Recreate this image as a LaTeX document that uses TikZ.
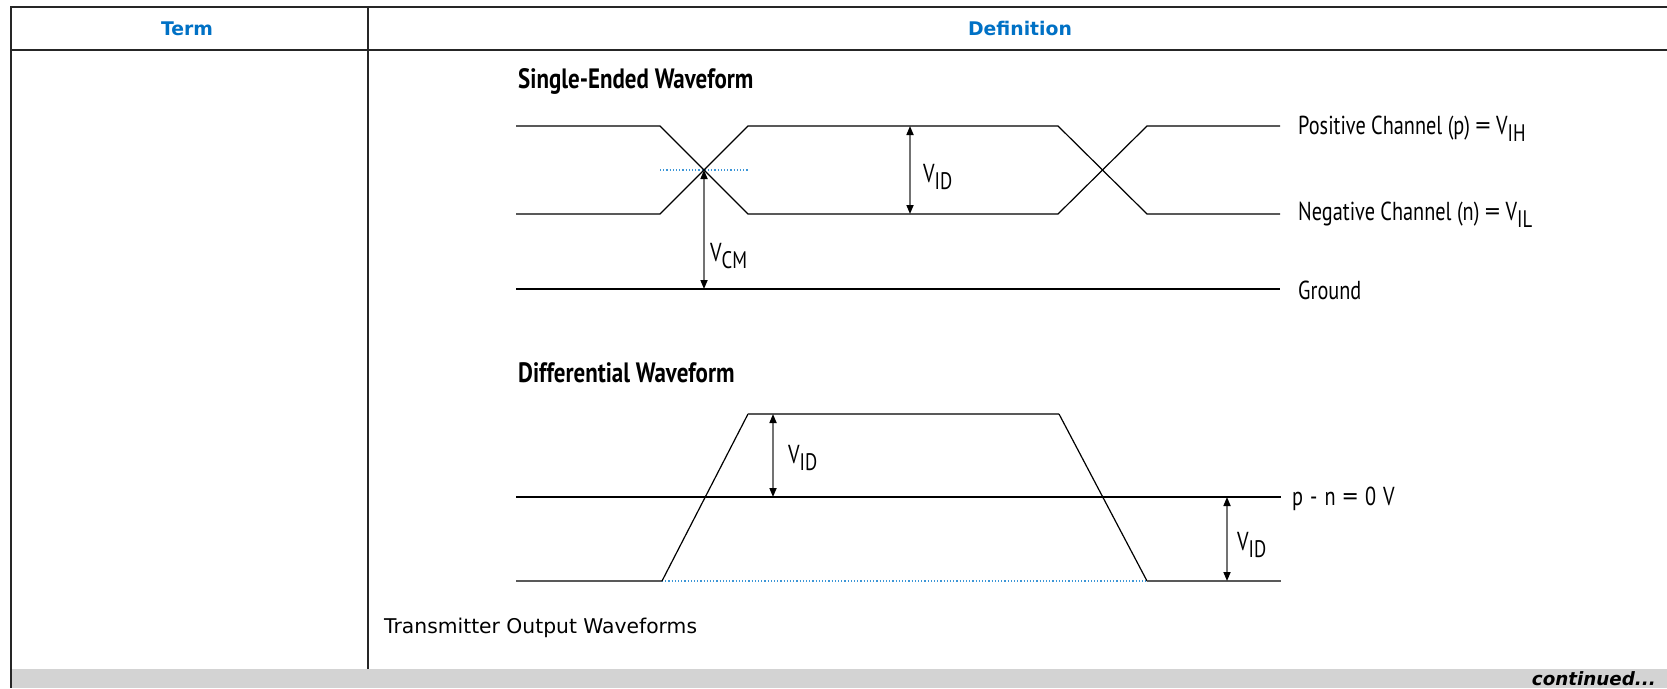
\documentclass[tikz,border=0pt]{standalone}
\usepackage{fontspec}
\usepackage{graphicx}
\usetikzlibrary{arrows.meta}
\newfontfamily\hdrfont{DejaVu Sans}
\newfontfamily\wfont[FakeStretch=0.78]{PT Sans}
\newfontfamily\wtfont[FakeStretch=0.82]{PT Sans}
\definecolor{intelblue}{RGB}{0,113,197}
\definecolor{dotblue}{RGB}{60,150,215}
\definecolor{barfill}{RGB}{211,211,211}
\newcommand\Vsub[1]{V\raisebox{-0.3em}{\scalebox{0.92}{#1}}}
\newcommand\eqsign{\scalebox{1.5}[1]{=}}
\newcommand\wsp{\hspace*{1.6pt} }
\begin{document}
\begin{tikzpicture}[x=1pt,y=-1pt,
  tbl/.style={line width=2pt, draw=black!85},
  hdr/.style={font=\hdrfont\bfseries\fontsize{18.8}{20}\selectfont, text=intelblue, inner sep=0pt, anchor=base},
  note/.style={font=\hdrfont\fontsize{20.3}{22}\selectfont, inner sep=0pt, anchor=base west},
  cont/.style={font=\hdrfont\bfseries\itshape\fontsize{18.3}{20}\selectfont, inner sep=0pt, anchor=base east},
  wlbl/.style={font=\wfont\fontsize{26}{28}\selectfont, inner sep=0pt, anchor=base west},
  wtitle/.style={font=\wtfont\bfseries\fontsize{28}{30}\selectfont, inner sep=0pt, anchor=base west},
  sig/.style={line width=1.2pt, draw=black},
  flat/.style={line width=1.7pt, draw=black!65},
  meas/.style={line width=1.6pt, draw=black!55, {Triangle[length=9pt,width=7pt,color=black]}-{Triangle[length=9pt,width=7pt,color=black]}},
  refl/.style={draw=dotblue, line width=1.2pt, dotted}]
\useasboundingbox (0,0) rectangle (1667,688);
\fill[white] (0,0) rectangle (1667,688);
% table
\fill[barfill] (10.7,669) rectangle (1667,688);
\draw[tbl] (1667,7) -- (10.7,7) -- (10.7,688);
\draw[tbl] (10.7,50) -- (1667,50);
\draw[tbl] (368,7) -- (368,669);
\node[hdr] (term) at (187,35) {Term};
\node[hdr] (defn) at (1020,35) {Definition};
\node[note] (caption) at (384,633) {Transmitter Output Waveforms};
\node[cont] (continued) at (1656,685) {continued...};
% single-ended waveform
\node[wtitle] (t1) at (518,88) {Single-Ended Waveform};
\coordinate (a1) at (516,126); \coordinate (a2) at (660,126);
\coordinate (a3) at (748,214); \coordinate (a4) at (1058,214);
\coordinate (a5) at (1147,126); \coordinate (a6) at (1280,126);
\coordinate (b1) at (516,214); \coordinate (b2) at (660,214);
\coordinate (b3) at (748,126); \coordinate (b4) at (1058,126);
\coordinate (b5) at (1147,214); \coordinate (b6) at (1280,214);
\coordinate (g1) at (516,289); \coordinate (g2) at (1280,289);
\coordinate (x1) at (704,170);
\coordinate (cmg) at (704,289);
\coordinate (d1) at (660,170); \coordinate (d2) at (748,170);
\coordinate (idt) at (910,126); \coordinate (idb) at (910,214);
\draw[refl] (d1) -- (d2);
\draw[sig] (a1) -- (a2) -- (a3) -- (a4) -- (a5) -- (a6);
\draw[sig] (b1) -- (b2) -- (b3) -- (b4) -- (b5) -- (b6);
\draw[sig] (g1) -- (g2);
\draw[meas] (idt) -- (idb);
\draw[meas] (x1) -- (cmg);
\node[wlbl] (vid1) at (923,182) {\Vsub{ID}};
\node[wlbl] (vcm) at (710,261) {\Vsub{CM}};
\node[wlbl] (pos) at (1298,134) {Positive Channel (p) \eqsign{} \Vsub{IH}};
\node[wlbl] (neg) at (1298,220) {Negative Channel (n) \eqsign{} \Vsub{IL}};
\node[wlbl] (gnd) at (1298,299) {Ground};
% differential waveform
\node[wtitle] (t2) at (518,382) {Differential Waveform};
\coordinate (e1) at (516,581); \coordinate (e2) at (662,581);
\coordinate (e3) at (748,414); \coordinate (e4) at (1059,414);
\coordinate (e5) at (1147,581); \coordinate (e6) at (1281,581);
\coordinate (z1) at (516,497); \coordinate (z2) at (1281,497);
\coordinate (m1) at (773,414); \coordinate (m2) at (773,497);
\coordinate (n1) at (1227,497); \coordinate (n2) at (1227,581);
\draw[refl] (e2) -- (e5);
\draw[sig] (z1) -- (z2);
\draw[flat] (e1) -- (e2);
\draw[sig] (e2) -- (e3);
\draw[flat] (e3) -- (e4);
\draw[sig] (e4) -- (e5);
\draw[flat] (e5) -- (e6);
\draw[meas] (m1) -- (m2);
\draw[meas] (n1) -- (n2);
\node[wlbl] (vid2) at (788,463) {\Vsub{ID}};
\node[wlbl] (vid3) at (1237,550) {\Vsub{ID}};
\node[wlbl] (zero) at (1292,505) {p\wsp-\wsp n\wsp\eqsign\wsp 0\wsp V};
\end{tikzpicture}
\end{document}
